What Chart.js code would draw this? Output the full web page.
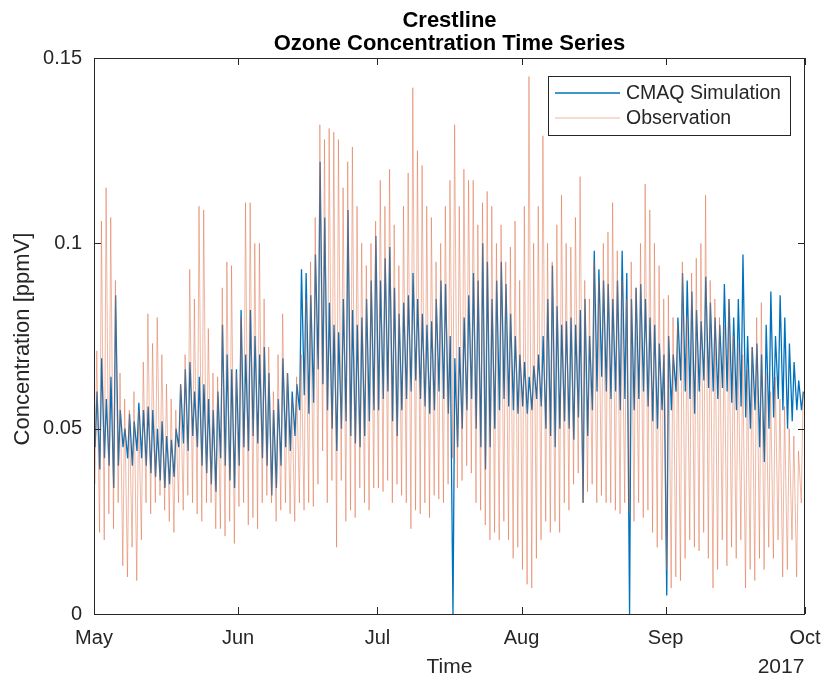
<!DOCTYPE html>
<html>
<head>
<meta charset="utf-8">
<title>Crestline Ozone Concentration Time Series</title>
<script src="https://cdn.jsdelivr.net/npm/chart.js@4/dist/chart.umd.min.js"></script>
<style>
  html, body { margin: 0; padding: 0; background: #ffffff; }
  #wrap { width: 822px; height: 681px; }
</style>
</head>
<body>
<div id="wrap"><canvas id="chart" width="822" height="681"></canvas></div>
<script>
// Days since 1 May 2017 at which each month begins, and their labels
const monthStarts = [0, 31, 61, 92, 123, 153];
const monthLabels = ['May', 'Jun', 'Jul', 'Aug', 'Sep', 'Oct'];
const yTickValues = [0, 0.05, 0.1, 0.15];
const yearLabel = '2017';

// Daily afternoon maximum of observed ozone (ppmV), 1 May – 30 Sep
const obsHigh = [
  0.071, 0.106, 0.115, 0.107, 0.090, 0.065, 0.058, 0.055, 0.060, 0.055,
  0.068, 0.081, 0.073, 0.080, 0.070, 0.062, 0.058, 0.055, 0.062, 0.070,
  0.093, 0.085, 0.110, 0.109, 0.077, 0.065, 0.064, 0.088, 0.095, 0.094,
  0.065, 0.080, 0.111, 0.111, 0.100, 0.100, 0.085, 0.072, 0.060, 0.070,
  0.081, 0.065, 0.058, 0.064, 0.070, 0.085, 0.095, 0.107, 0.132, 0.128,
  0.131, 0.130, 0.128, 0.115, 0.122, 0.126, 0.110, 0.100, 0.094, 0.100,
  0.106, 0.117, 0.110, 0.120, 0.105, 0.094, 0.110, 0.119, 0.142, 0.125,
  0.121, 0.110, 0.107, 0.095, 0.100, 0.110, 0.117, 0.132, 0.110, 0.120,
  0.117, 0.117, 0.105, 0.111, 0.114, 0.110, 0.100, 0.105, 0.095, 0.099,
  0.106, 0.090, 0.110, 0.145, 0.100, 0.110, 0.129, 0.100, 0.095, 0.105,
  0.113, 0.100, 0.099, 0.107, 0.118, 0.090, 0.085, 0.095, 0.090, 0.100,
  0.103, 0.111, 0.098, 0.090, 0.085, 0.095, 0.088, 0.100, 0.116, 0.109,
  0.100, 0.094, 0.085, 0.086, 0.080, 0.078, 0.095, 0.080, 0.092, 0.096,
  0.100, 0.113, 0.090, 0.085, 0.080, 0.078, 0.085, 0.075, 0.073, 0.070,
  0.066, 0.072, 0.080, 0.084, 0.065, 0.060, 0.064, 0.058, 0.056, 0.050,
  0.048, 0.044, 0.060
];

// Daily early-morning minimum of observed ozone (ppmV)
const obsLow = [
  0.035, 0.022, 0.020, 0.027, 0.023, 0.030, 0.013, 0.010, 0.018, 0.009,
  0.020, 0.030, 0.027, 0.030, 0.032, 0.028, 0.025, 0.022, 0.030, 0.028,
  0.032, 0.030, 0.027, 0.025, 0.030, 0.030, 0.023, 0.023, 0.021, 0.025,
  0.019, 0.029, 0.030, 0.024, 0.026, 0.023, 0.030, 0.032, 0.030, 0.025,
  0.028, 0.030, 0.027, 0.025, 0.030, 0.028, 0.030, 0.029, 0.035, 0.044,
  0.030, 0.036, 0.018, 0.036, 0.025, 0.028, 0.026, 0.034, 0.030, 0.028,
  0.034, 0.034, 0.033, 0.036, 0.030, 0.035, 0.032, 0.030, 0.023, 0.028,
  0.027, 0.030, 0.026, 0.032, 0.031, 0.030, 0.035, 0.042, 0.034, 0.036,
  0.040, 0.038, 0.030, 0.028, 0.024, 0.020, 0.022, 0.020, 0.025, 0.020,
  0.015, 0.018, 0.012, 0.008, 0.007, 0.015, 0.020, 0.025, 0.022, 0.025,
  0.022, 0.030, 0.028, 0.035, 0.038, 0.030, 0.033, 0.035, 0.030, 0.032,
  0.030, 0.030, 0.028, 0.027, 0.030, 0.028, 0.025, 0.030, 0.026, 0.028,
  0.022, 0.018, 0.020, 0.012, 0.007, 0.010, 0.009, 0.015, 0.020, 0.018,
  0.017, 0.022, 0.015, 0.007, 0.012, 0.020, 0.013, 0.018, 0.015, 0.020,
  0.007, 0.012, 0.009, 0.015, 0.012, 0.018, 0.015, 0.020, 0.010, 0.012,
  0.020, 0.010, 0.030
];

// Daily maximum of the CMAQ simulated ozone (ppmV)
const simHigh = [
  0.060, 0.069, 0.058, 0.064, 0.086, 0.055, 0.050, 0.054, 0.052, 0.057,
  0.055, 0.056, 0.055, 0.050, 0.052, 0.048, 0.047, 0.050, 0.062, 0.066,
  0.068, 0.060, 0.064, 0.062, 0.058, 0.055, 0.060, 0.078, 0.070, 0.066,
  0.066, 0.082, 0.070, 0.082, 0.075, 0.070, 0.072, 0.065, 0.055, 0.058,
  0.069, 0.065, 0.060, 0.062, 0.093, 0.092, 0.086, 0.097, 0.122, 0.107,
  0.084, 0.078, 0.076, 0.085, 0.109, 0.082, 0.078, 0.080, 0.085, 0.090,
  0.102, 0.090, 0.096, 0.099, 0.088, 0.081, 0.084, 0.086, 0.092, 0.085,
  0.081, 0.078, 0.079, 0.085, 0.090, 0.089, 0.075, 0.069, 0.072, 0.080,
  0.086, 0.092, 0.090, 0.100, 0.095, 0.085, 0.090, 0.095, 0.089, 0.081,
  0.075, 0.070, 0.068, 0.064, 0.067, 0.070, 0.075, 0.085, 0.094, 0.083,
  0.078, 0.079, 0.080, 0.078, 0.082, 0.085, 0.075, 0.098, 0.093, 0.090,
  0.089, 0.085, 0.090, 0.098, 0.092, 0.085, 0.088, 0.089, 0.085, 0.080,
  0.078, 0.073, 0.070, 0.075, 0.070, 0.080, 0.092, 0.090, 0.087, 0.082,
  0.079, 0.091, 0.084, 0.080, 0.078, 0.089, 0.085, 0.080, 0.085, 0.097,
  0.075, 0.072, 0.073, 0.070, 0.078, 0.087, 0.075, 0.086, 0.080, 0.073,
  0.068, 0.063, 0.060
];

// Daily minimum of the CMAQ simulated ozone (ppmV)
const simLow = [
  0.045, 0.039, 0.042, 0.040, 0.034, 0.040, 0.045, 0.042, 0.040, 0.044,
  0.042, 0.040, 0.038, 0.037, 0.036, 0.034, 0.035, 0.037, 0.045, 0.046,
  0.044, 0.048, 0.045, 0.040, 0.038, 0.035, 0.033, 0.042, 0.040, 0.036,
  0.034, 0.040, 0.045, 0.044, 0.048, 0.046, 0.042, 0.040, 0.032, 0.034,
  0.040, 0.045, 0.044, 0.048, 0.055, 0.059, 0.054, 0.057, 0.066, 0.062,
  0.055, 0.050, 0.044, 0.050, 0.052, 0.048, 0.046, 0.045, 0.048, 0.052,
  0.055, 0.055, 0.058, 0.060, 0.052, 0.048, 0.055, 0.058, 0.060, 0.063,
  0.058, 0.056, 0.054, 0.055, 0.060, 0.058, 0.054, 0.000, 0.045, 0.050,
  0.055, 0.058, 0.050, 0.045, 0.039, 0.045, 0.050, 0.055, 0.058, 0.056,
  0.055, 0.054, 0.056, 0.054, 0.055, 0.058, 0.056, 0.050, 0.048, 0.045,
  0.050, 0.052, 0.050, 0.047, 0.053, 0.030, 0.048, 0.055, 0.060, 0.064,
  0.060, 0.058, 0.060, 0.055, 0.058, 0.000, 0.055, 0.058, 0.060, 0.056,
  0.052, 0.050, 0.055, 0.005, 0.055, 0.060, 0.063, 0.060, 0.058, 0.054,
  0.060, 0.063, 0.061, 0.060, 0.058, 0.061, 0.060, 0.057, 0.055, 0.056,
  0.053, 0.050, 0.055, 0.045, 0.041, 0.050, 0.053, 0.058, 0.055, 0.050,
  0.052, 0.055, 0.055
];

// Each day contributes its morning low followed by its afternoon high
function dailyPoints(lows, highs, lowAt, highAt) {
  const pts = [];
  for (let d = 0; d < lows.length; d++) {
    pts.push({ x: d + lowAt, y: lows[d] });
    pts.push({ x: d + highAt, y: highs[d] });
  }
  return pts;
}

const FONT = "'Liberation Sans', Arial, Helvetica, sans-serif";
const SIM_COLOR = '#0072BD';
const OBS_COLOR = 'rgba(220, 95, 50, 0.5)';
const AXIS_COLOR = '#262626';

// Box, inward tick marks, titles and the legend, drawn in MATLAB style
const decorations = {
  id: 'decorations',
  afterDatasetsDraw(chart) {
    const { ctx, chartArea: a, scales } = chart;
    ctx.save();
    ctx.strokeStyle = AXIS_COLOR;
    ctx.lineWidth = 1;
    ctx.strokeRect(Math.round(a.left) + 0.5, Math.round(a.top) + 0.5,
                   Math.round(a.right - a.left) - 1, Math.round(a.bottom - a.top));
    const tl = 7;
    ctx.beginPath();
    monthStarts.forEach(v => {
      const px = Math.round(scales.x.getPixelForValue(v)) + 0.5;
      ctx.moveTo(px, a.bottom); ctx.lineTo(px, a.bottom - tl);
      ctx.moveTo(px, a.top); ctx.lineTo(px, a.top + tl);
    });
    yTickValues.forEach(v => {
      const py = Math.round(scales.y.getPixelForValue(v)) + 0.5;
      ctx.moveTo(a.left, py); ctx.lineTo(a.left + tl, py);
      ctx.moveTo(a.right, py); ctx.lineTo(a.right - tl, py);
    });
    ctx.stroke();
    ctx.restore();
  },
  afterDraw(chart) {
    const { ctx, chartArea: a } = chart;
    const cx = (a.left + a.right) / 2;
    ctx.save();
    // Title
    ctx.fillStyle = '#000000';
    ctx.textAlign = 'center';
    ctx.textBaseline = 'alphabetic';
    ctx.font = 'bold 22px ' + FONT;
    ctx.fillText('Crestline', cx, 27);
    ctx.fillText('Ozone Concentration Time Series', cx, 50);

    // Axis titles
    ctx.fillStyle = AXIS_COLOR;
    ctx.font = '21px ' + FONT;
    ctx.fillText('Time', cx, 673);
    ctx.fillText(yearLabel, 781, 673);
    ctx.save();
    ctx.translate(29, 339);
    ctx.rotate(-Math.PI / 2);
    ctx.font = '22px ' + FONT;
    ctx.fillText('Concentration [ppmV]', 0, 0);
    ctx.restore();

    // Legend
    const lx = 548, ly = 76, lw = 242, lh = 59;
    ctx.fillStyle = '#ffffff';
    ctx.fillRect(lx, ly, lw, lh);
    ctx.strokeStyle = AXIS_COLOR;
    ctx.lineWidth = 1;
    ctx.strokeRect(lx + 0.5, ly + 0.5, lw, lh);
    const entries = chart.data.datasets.map(ds => ({ label: ds.label, color: ds.borderColor, width: ds.borderWidth }));
    entries.forEach((e, i) => {
      const y = 93 + i * 25;
      ctx.strokeStyle = e.color;
      ctx.lineWidth = e.width;
      ctx.beginPath();
      ctx.moveTo(555, y);
      ctx.lineTo(620, y);
      ctx.stroke();
      ctx.fillStyle = AXIS_COLOR;
      ctx.textAlign = 'left';
      ctx.textBaseline = 'middle';
      ctx.font = '19.5px ' + FONT;
      ctx.fillText(e.label, 626, y + 1);
    });
    ctx.restore();
  }
};

new Chart(document.getElementById('chart'), {
  type: 'line',
  data: {
    datasets: [
      {
        label: 'CMAQ Simulation',
        data: dailyPoints(simLow, simHigh, 0.25, 0.65),
        borderColor: SIM_COLOR,
        borderWidth: 1.3,
        pointRadius: 0,
        tension: 0,
        order: 1
      },
      {
        label: 'Observation',
        data: dailyPoints(obsLow, obsHigh, 0.2, 0.6),
        borderColor: OBS_COLOR,
        borderWidth: 0.9,
        pointRadius: 0,
        tension: 0,
        order: 0
      }
    ]
  },
  options: {
    responsive: false,
    devicePixelRatio: 1,
    animation: false,
    events: [],
    layout: { padding: { top: 58, right: 17, left: 0, bottom: 0 } },
    plugins: { legend: { display: false }, title: { display: false }, tooltip: { enabled: false } },
    scales: {
      x: {
        type: 'linear',
        min: monthStarts[0],
        max: monthStarts[monthStarts.length - 1],
        afterBuildTicks(scale) { scale.ticks = monthStarts.map(v => ({ value: v })); },
        afterFit(scale) {
          scale.height = 67;
          scale.paddingLeft = 0;
          scale.paddingRight = 0;
        },
        grid: { display: false, drawTicks: false },
        border: { display: false },
        ticks: {
          autoSkip: false,
          maxRotation: 0,
          padding: 12,
          color: AXIS_COLOR,
          font: { family: FONT, size: 20 },
          callback(v) { const i = monthStarts.indexOf(v); return i >= 0 ? monthLabels[i] : ''; }
        }
      },
      y: {
        min: 0,
        max: 0.15,
        afterBuildTicks(scale) { scale.ticks = yTickValues.map(v => ({ value: v })); },
        afterFit(scale) {
          scale.width = 94;
          scale.paddingTop = 0;
          scale.paddingBottom = 0;
        },
        grid: { display: false, drawTicks: false },
        border: { display: false },
        ticks: {
          padding: 12,
          color: AXIS_COLOR,
          font: { family: FONT, size: 20 },
          callback(v) { return String(Number(v.toFixed(2))); }
        }
      }
    }
  },
  plugins: [decorations]
});
</script>
</body>
</html>
